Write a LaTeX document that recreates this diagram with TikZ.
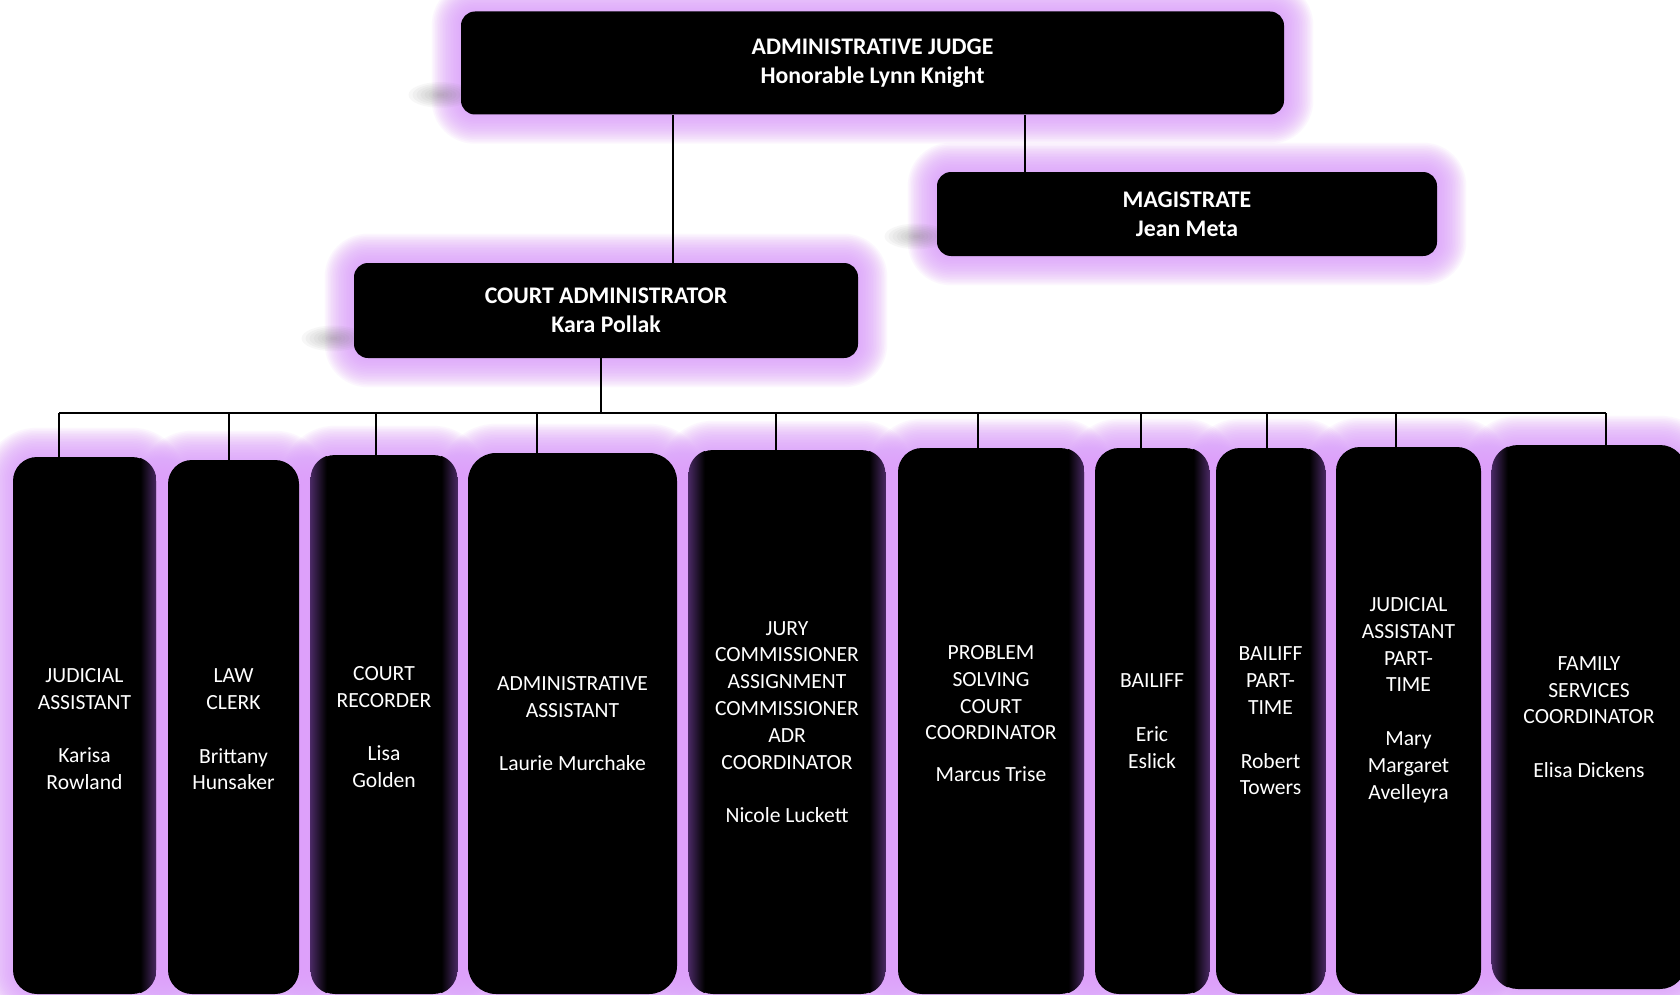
\documentclass[tikz,border=0pt]{standalone}
\usepackage{fontspec}
\setmainfont{Carlito}
\usetikzlibrary{calc,backgrounds}
\definecolor{lilac}{RGB}{221,160,250}
\definecolor{dkp}{RGB}{72,40,98}
\newcommand{\padbottom}[1]{\\[#1]\mbox{}}
\newcommand{\padtop}[1]{\mbox{}\\[#1]}
\tikzset{
  topbox/.style={fill=black, text=white, rounded corners=7pt, inner sep=0pt, align=center,
    font=\bfseries\fontsize{11.9}{14.5}\selectfont},
  staffbox/.style={fill=black, text=white, rounded corners=12pt, inner sep=0pt, align=center,
    font=\fontsize{10.8}{13.4}\selectfont},
  link/.style={draw=black, line width=1.15pt},
  glowlayer/.style={fill=lilac, opacity=0.085},
  smudge/.style={fill=black!60, opacity=0.05},
  edgeshade/.style={left color=black, right color=dkp},
  edgeshadel/.style={left color=dkp, right color=black},
}
\begin{document}
\begin{tikzpicture}[x=0.5pt,y=-0.5pt]
\useasboundingbox (0,0) rectangle (1680,995);

% top boxes
\node[topbox, minimum width=411.5pt, minimum height=51.5pt] (judge) at (872.5,63)
  {ADMINISTRATIVE JUDGE\\Honorable Lynn Knight};
\node[topbox, minimum width=250pt, minimum height=42pt] (mag) at (1187,214)
  {MAGISTRATE\\Jean Meta};
\node[topbox, minimum width=252pt, minimum height=47.5pt] (admin) at (606,310.5)
  {COURT ADMINISTRATOR\\Kara Pollak};

% staff boxes
\node[staffbox, minimum width=71.5pt, minimum height=268.5pt] (b1) at (84.5,725.5)
  {\padtop{-3pt}JUDICIAL\\ASSISTANT\\[13.4pt]Karisa\\Rowland};
\node[staffbox, minimum width=65.5pt, minimum height=267pt] (b2) at (233.5,727)
  {\padtop{-4pt}LAW\\CLERK\\[13.4pt]Brittany\\Hunsaker};
\node[staffbox, minimum width=73pt, minimum height=269.5pt] (b3) at (384,724.5)
  {\padtop{-4pt}COURT\\RECORDER\\[13.4pt]Lisa\\Golden};
\node[staffbox, rounded corners=14pt, minimum width=104.5pt, minimum height=270.5pt] (b4) at (572.5,723.5)
  {ADMINISTRATIVE\\ASSISTANT\\[13.4pt]Laurie Murchake};
\node[staffbox, minimum width=98pt, minimum height=272pt] (b5) at (787,722)
  {JURY\\COMMISSIONER\\ASSIGNMENT\\COMMISSIONER\\ADR\\COORDINATOR\\[13.4pt]Nicole Luckett};
\node[staffbox, minimum width=93pt, minimum height=273pt] (b6) at (991,721)
  {PROBLEM\\SOLVING\\COURT\\COORDINATOR\\[7.5pt]Marcus Trise\padbottom{-5.9pt}};
\node[staffbox, minimum width=57pt, minimum height=273pt] (b7) at (1152,721)
  {BAILIFF\\[13.4pt]Eric\\Eslick};
\node[staffbox, minimum width=54.5pt, minimum height=273pt] (b8) at (1270.5,721)
  {BAILIFF\\PART-\\TIME\\[13.4pt]Robert\\Towers};
\node[staffbox, minimum width=72.5pt, minimum height=273.5pt] (b9) at (1408.5,720.5)
  {JUDICIAL\\ASSISTANT\\PART-\\TIME\\[13.4pt]Mary\\Margaret\\Avelleyra\padbottom{8.8pt}};
\node[staffbox, rounded corners=13pt, minimum width=97pt, minimum height=272pt] (b10) at (1589,717)
  {FAMILY\\SERVICES\\COORDINATOR\\[13.4pt]Elisa Dickens};

% glow and background
\begin{scope}[on background layer]
  \fill[white] (0,0) rectangle (1680,995);
  \foreach \n/\r in {judge/7,mag/7,admin/7,b1/12,b2/12,b3/12,b4/14,b5/12,b6/12,b7/12,b8/12,b9/12,b10/13} {
    \foreach \k in {1,...,18} {
      \pgfmathsetmacro\rr{\r+\k*0.8}
      \fill[glowlayer, rounded corners=\rr pt]
        ($(\n.south west)+(-1.6*\k,1.6*\k)$) rectangle ($(\n.north east)+(1.6*\k,-1.6*\k)$);
    }
  }
  \foreach \n in {judge,mag,admin} {
    \foreach \k in {1,...,8} {
      \fill[smudge] ($(\n.south west)+(-20,-20)$) ellipse ({2.0*\k pt} and {0.8*\k pt});
    }
  }
\end{scope}

% dark purple inner edges
\foreach \n/\r in {b1/12,b3/12,b5/12,b6/12,b7/12,b8/12} {
  \begin{scope}
    \clip[rounded corners=\r pt] (\n.south west) rectangle (\n.north east);
    \shade[edgeshade] ($(\n.north east)+(-16,0)$) rectangle (\n.south east);
  \end{scope}
}
\foreach \n/\r in {b3/12,b5/12,b10/13} {
  \begin{scope}
    \clip[rounded corners=\r pt] (\n.south west) rectangle (\n.north east);
    \shade[edgeshadel] (\n.north west) rectangle ($(\n.south west)+(16,0)$);
  \end{scope}
}

% connectors
\coordinate (xja) at (673,0);
\coordinate (xjm) at (1025,0);
\coordinate (xad) at (601,0);
\coordinate (d1) at (59,413);
\coordinate (d2) at (229,413);
\coordinate (d3) at (376,413);
\coordinate (d4) at (537,413);
\coordinate (d5) at (776,413);
\coordinate (d6) at (978,413);
\coordinate (d7) at (1141,413);
\coordinate (d8) at (1267,413);
\coordinate (d9) at (1396,413);
\coordinate (d10) at (1606,413);

\draw[link] (judge.south -| xja) -- (admin.north -| xja);
\draw[link] (judge.south -| xjm) -- (mag.north -| xjm);
\draw[link] (admin.south -| xad) -- (xad |- d1);
\draw[link] (d1) -- (d10);
\foreach \i in {1,...,10} {
  \draw[link] (d\i) -- (d\i |- b\i.north);
}
\end{tikzpicture}
\end{document}
